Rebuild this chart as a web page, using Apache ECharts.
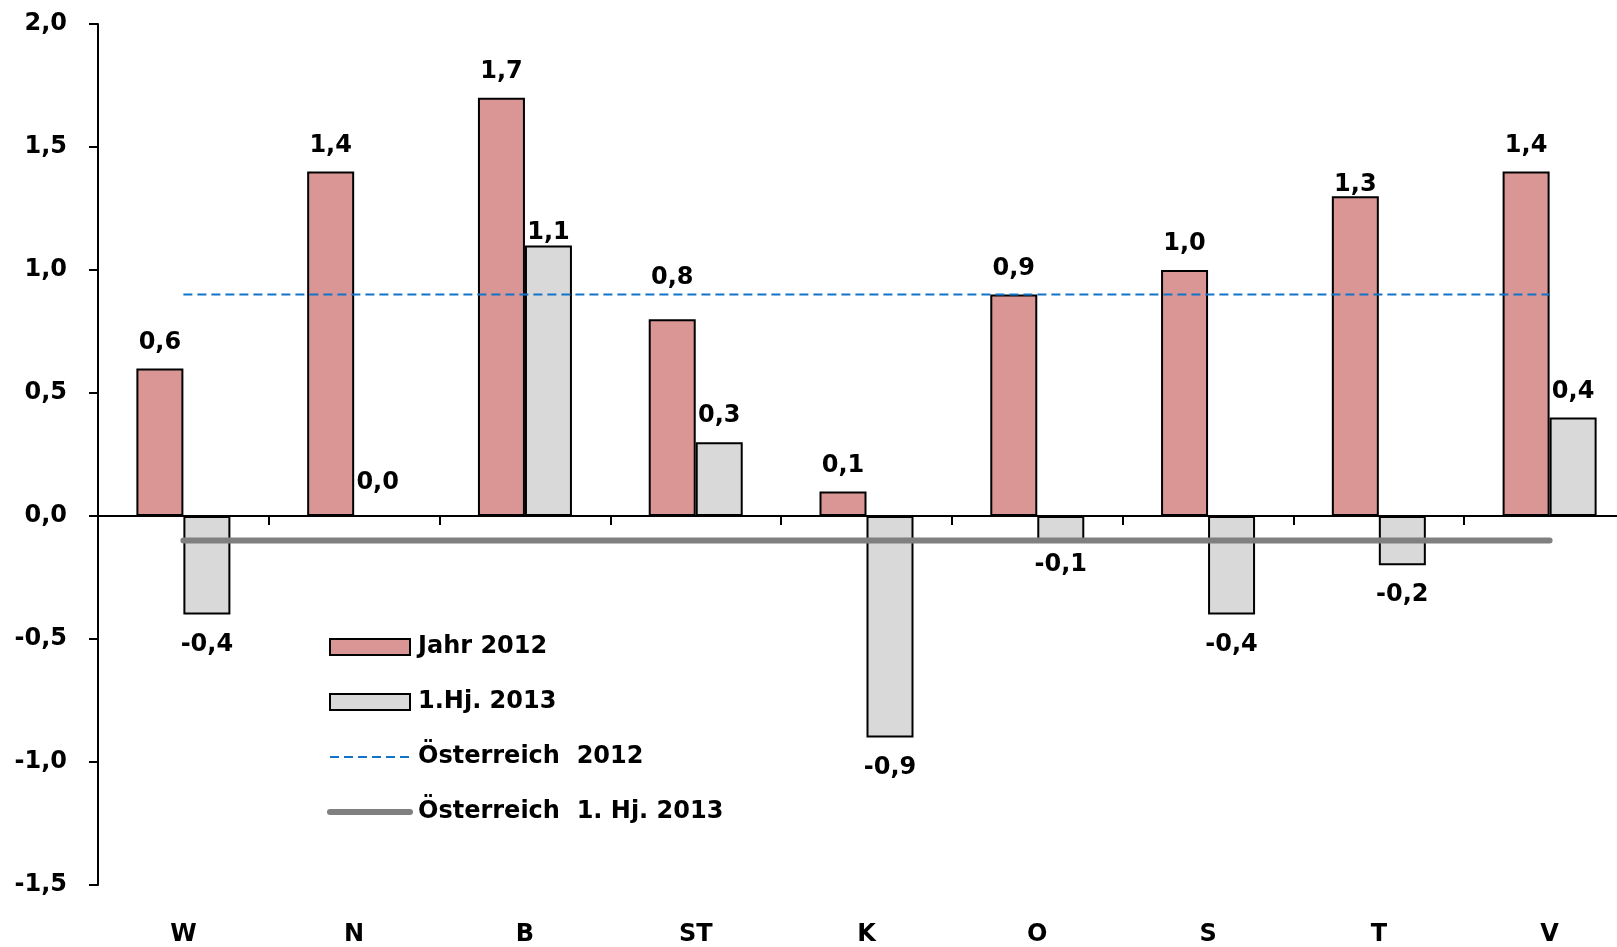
<!DOCTYPE html>
<html>
<head>
<meta charset="utf-8">
<script src="https://cdn.jsdelivr.net/npm/echarts@6/dist/echarts.min.js"></script>
<style>
  html, body { margin: 0; padding: 0; background: #fff; }
  #chart { width: 1617px; height: 947px; }
</style>
</head>
<body>
<div id="chart"></div>
<script>
// Bundesländer
var categories = ['W', 'N', 'B', 'ST', 'K', 'O', 'S', 'T', 'V'];
var jahr2012 = [0.6, 1.4, 1.7, 0.8, 0.1, 0.9, 1.0, 1.3, 1.4];
var hj2013 = [-0.4, 0.0, 1.1, 0.3, -0.9, -0.1, -0.4, -0.2, 0.4];
var oesterreich2012 = [0.9, 0.9, 0.9, 0.9, 0.9, 0.9, 0.9, 0.9, 0.9];
var oesterreichHj2013 = [-0.1, -0.1, -0.1, -0.1, -0.1, -0.1, -0.1, -0.1, -0.1];
var yTicks = { min: -1.5, max: 2.0, interval: 0.5 };

var FONT = 'DejaVu Sans';
var FS = 24;
var fmt = function (v) { return Number(v).toFixed(1).replace('.', ','); };

// labels that were moved by hand in the original
var nudge2012 = { 3: [0, -15], 7: [0, 15] };
var nudgeHj = { 1: [0, -6], 2: [0, 13], 5: [0, -6] };

function barData(arr, nudge) {
  return arr.map(function (v, i) {
    return {
      value: v,
      label: {
        position: v < 0 ? 'bottom' : 'top',
        distance: v < 0 ? 18 : 14,
        offset: nudge[i] || [0, 0]
      }
    };
  });
}

var chart = echarts.init(document.getElementById('chart'));
var labelStyle = {
  show: true, color: '#000', fontFamily: FONT, fontSize: FS, fontWeight: 'bold',
  formatter: function (p) { return fmt(p.value); }
};

var option = {
  backgroundColor: '#fff',
  animation: false,
  textStyle: { fontFamily: FONT },
  // plot area runs a little past the right edge of the picture
  grid: { left: 98, width: 1537, top: 24, bottom: 62, containLabel: false, outerBoundsMode: 'none' },
  legend: {
    orient: 'vertical',
    left: 327,
    top: 635,
    padding: 0,
    itemWidth: 80,
    itemHeight: 16,
    itemGap: 31,
    textStyle: { fontFamily: FONT, fontSize: FS, fontWeight: 'bold', color: '#000', padding: [0, 0, 0, 3] },
    data: [
      { name: 'Jahr 2012', icon: 'rect', itemStyle: { borderColor: '#000', borderWidth: 2 } },
      { name: '1.Hj. 2013', icon: 'rect', itemStyle: { borderColor: '#000', borderWidth: 2 } },
      { name: 'Österreich  2012', itemStyle: { opacity: 0 }, lineStyle: { width: 2, type: [9, 5] } },
      { name: 'Österreich  1. Hj. 2013', itemStyle: { opacity: 0 }, lineStyle: { width: 6, cap: 'round' } }
    ]
  },
  xAxis: [{
    type: 'category',
    data: categories,
    axisLine: { onZero: true, lineStyle: { color: '#000', width: 2 } },
    axisTick: { show: true, inside: false, length: 9, lineStyle: { color: '#000', width: 2 } },
    axisLabel: { show: false },
    splitLine: { show: false }
  }, {
    type: 'category',
    data: categories,
    position: 'bottom',
    axisLine: { show: false, onZero: false },
    axisTick: { show: false },
    axisLabel: { show: true, margin: 38, color: '#000', fontFamily: FONT, fontSize: FS, fontWeight: 'bold' },
    splitLine: { show: false }
  }],
  yAxis: {
    type: 'value',
    min: yTicks.min,
    max: yTicks.max,
    interval: yTicks.interval,
    axisLine: { show: true, lineStyle: { color: '#000', width: 2 } },
    axisTick: { show: true, inside: false, length: 9, lineStyle: { color: '#000', width: 2 } },
    axisLabel: { margin: 31, color: '#000', fontFamily: FONT, fontSize: FS, fontWeight: 'bold', formatter: fmt },
    splitLine: { show: false }
  },
  series: [{
    name: 'Jahr 2012',
    type: 'bar',
    xAxisIndex: 0,
    barWidth: 47,
    barGap: '0%',
    itemStyle: { color: '#D99694', borderColor: '#000', borderWidth: 2 },
    label: labelStyle,
    data: barData(jahr2012, nudge2012),
    z: 2
  }, {
    name: '1.Hj. 2013',
    type: 'bar',
    xAxisIndex: 0,
    barWidth: 47,
    barGap: '0%',
    itemStyle: { color: '#D9D9D9', borderColor: '#000', borderWidth: 2 },
    label: labelStyle,
    data: barData(hj2013, nudgeHj),
    z: 2
  }, {
    name: 'Österreich  2012',
    type: 'line',
    xAxisIndex: 0,
    symbol: 'none',
    lineStyle: { color: '#1273C9', width: 2, type: [9, 5] },
    itemStyle: { color: '#1273C9' },
    data: oesterreich2012,
    z: 3
  }, {
    name: 'Österreich  1. Hj. 2013',
    type: 'line',
    xAxisIndex: 0,
    symbol: 'none',
    lineStyle: { color: '#808080', width: 6, cap: 'round' },
    itemStyle: { color: '#808080' },
    data: oesterreichHj2013,
    z: 3
  }]
};
chart.setOption(option);
</script>
</body>
</html>
